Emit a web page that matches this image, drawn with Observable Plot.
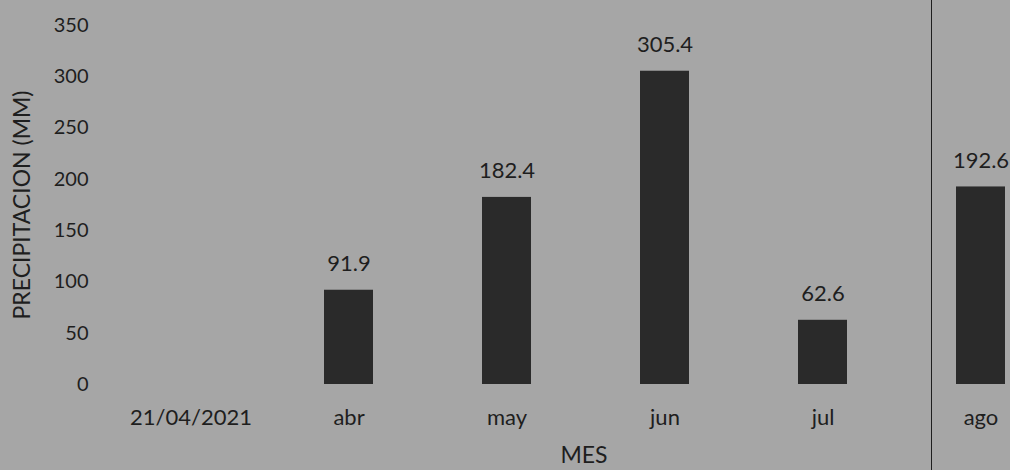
<!DOCTYPE html>
<html>
<head>
<meta charset="utf-8">
<script src="https://cdn.jsdelivr.net/npm/d3@7"></script>
<script src="https://cdn.jsdelivr.net/npm/@observablehq/plot@0.6"></script>
<style>
  html, body { margin: 0; padding: 0; background: #a6a6a6; }
  #wrap { position: relative; width: 1010px; height: 470px; overflow: hidden; background: #a6a6a6; }
  #edge { position: absolute; left: 931px; top: 0; width: 0; height: 470px; border-left: 1.5px solid #1e1e1e; }
</style>
</head>
<body>
<div id="wrap"><div id="edge"></div></div>
<script>
const categories = ["21/04/2021", "abr", "may", "jun", "jul", "ago"];
const values = [null, 91.9, 182.4, 305.4, 62.6, 192.6];
const yTicks = [0, 50, 100, 150, 200, 250, 300, 350];
const yTitle = "PRECIPITACION (MM)";
const xTitle = "MES";

const data = categories.map((c, i) => ({cat: c, val: values[i]}));
const bars = data.filter(d => d.val != null);

const font = "Lato, 'Open Sans', sans-serif";

const chart = Plot.plot({
  width: 1010,
  height: 470,
  marginTop: 25,
  marginBottom: 86,
  marginLeft: 92,
  marginRight: -49,
  style: {background: "transparent", color: "#1e1e1e", fontFamily: font, fontSize: "20px"},
  x: {domain: categories, range: [111, 1059], paddingInner: 0.69, paddingOuter: 0.345, label: null},
  y: {domain: [0, 350], ticks: yTicks, label: null},
  marks: [
    Plot.barY(bars, {x: "cat", y: "val", fill: "#2a2a2a"}),
    Plot.text(bars, {x: "cat", y: "val", text: d => d.val.toFixed(1), dy: -26, fontSize: 22, fill: "#1e1e1e"}),
    Plot.axisY({ticks: yTicks, tickSize: 0, tickPadding: 4, fontSize: 20, label: null}),
    Plot.axisX({tickSize: 0, tickPadding: 25, fontSize: 22, label: null}),
    Plot.text([yTitle], {frameAnchor: "left", textAnchor: "middle", dx: -70, rotate: -90, fontSize: 23, text: d => d, fill: "#1e1e1e"}),
    Plot.text([xTitle], {frameAnchor: "bottom", textAnchor: "middle", dx: 8, dy: 78, fontSize: 23, text: d => d, fill: "#1e1e1e"})
  ]
});
chart.style.position = "absolute";
chart.style.left = "0";
chart.style.top = "0";
chart.style.overflow = "hidden";
document.getElementById("wrap").prepend(chart);
</script>
</body>
</html>
